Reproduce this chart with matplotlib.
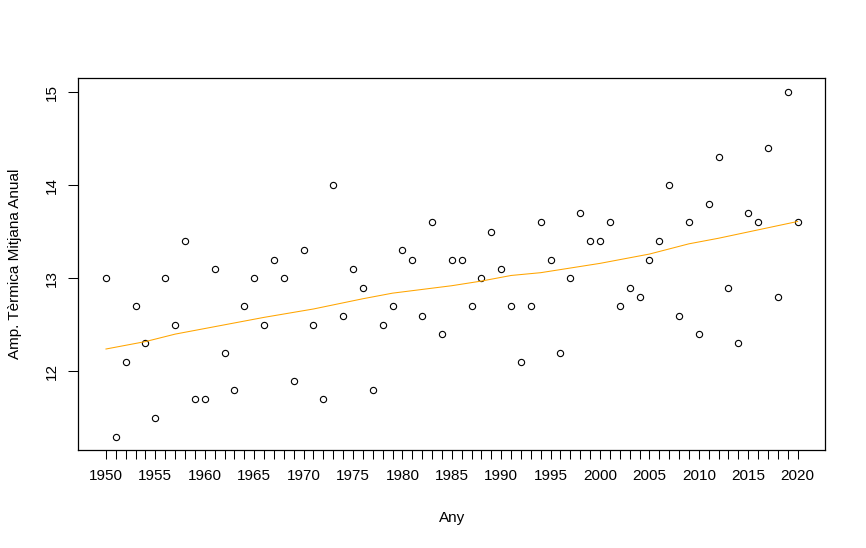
import matplotlib
matplotlib.use("Agg")
import matplotlib.pyplot as plt

# Annual mean thermal amplitude, 1950-2020
years = list(range(1950, 2021))
amplitude = [
    13.0, 11.3, 12.1, 12.7, 12.3, 11.5, 13.0, 12.5, 13.4, 11.7,
    11.7, 13.1, 12.2, 11.8, 12.7, 13.0, 12.5, 13.2, 13.0, 11.9,
    13.3, 12.5, 11.7, 14.0, 12.6, 13.1, 12.9, 11.8, 12.5, 12.7,
    13.3, 13.2, 12.6, 13.6, 12.4, 13.2, 13.2, 12.7, 13.0, 13.5,
    13.1, 12.7, 12.1, 12.7, 13.6, 13.2, 12.2, 13.0, 13.7, 13.4,
    13.4, 13.6, 12.7, 12.9, 12.8, 13.2, 13.4, 14.0, 12.6, 13.6,
    12.4, 13.8, 14.3, 12.9, 12.3, 13.7, 13.6, 14.4, 12.8, 15.0,
    13.6,
]

# smoothed trend
trend_years = [1950, 1954, 1957, 1962, 1966, 1971, 1976, 1979, 1982, 1985,
               1988, 1991, 1994, 1997, 2000, 2005, 2009, 2012, 2016, 2020]
trend_values = [12.24, 12.32, 12.40, 12.50, 12.58, 12.67, 12.78, 12.84, 12.88, 12.92,
                12.97, 13.03, 13.06, 13.11, 13.16, 13.26, 13.37, 13.43, 13.52, 13.61]

x_labels = [str(y) if y % 5 == 0 else "" for y in years]
y_ticks = [12, 13, 14, 15]

W, H = 866, 548
plt.rcParams['font.family'] = ['Liberation Sans', 'DejaVu Sans']

fig = plt.figure(figsize=(W / 100, H / 100), dpi=100)
left, right, top, bottom = 78.3, 825.3, 78.3, 450.3
ax = fig.add_axes([left / W, 1 - bottom / H, (right - left) / W, (bottom - top) / H])

ax.plot(years, amplitude, linestyle="none", marker="o", markersize=4.5,
        markerfacecolor="none", markeredgecolor="black", markeredgewidth=0.8)
ax.plot(trend_years, trend_values, color="orange", linewidth=0.75)

# R style: 4% padding on both axes
xr = years[-1] - years[0]
ax.set_xlim(years[0] - 0.04 * xr, years[-1] + 0.04 * xr)
yr = max(amplitude) - min(amplitude)
ax.set_ylim(min(amplitude) - 0.04 * yr, max(amplitude) + 0.04 * yr)

ax.set_xticks(years)
ax.set_xticklabels(x_labels, fontsize=11)
ax.set_yticks(y_ticks)
ax.set_yticklabels([str(v) for v in y_ticks], fontsize=11, rotation=90, va="center")

ax.tick_params(axis="x", direction="out", length=6.5, width=0.75, pad=7)
ax.tick_params(axis="y", direction="out", length=7, width=0.75, pad=7)
for s in ax.spines.values():
    s.set_linewidth(0.9)

fig.text((left + right) / 2 / W, 1 - 518 / H, "Any", ha="center", va="center", fontsize=11)
fig.text(15 / W, 1 - (top + bottom) / 2 / H, "Amp. Tèrmica Mitjana Anual",
         ha="center", va="center", rotation=90, fontsize=11)

fig.savefig("out.png", dpi=100)
